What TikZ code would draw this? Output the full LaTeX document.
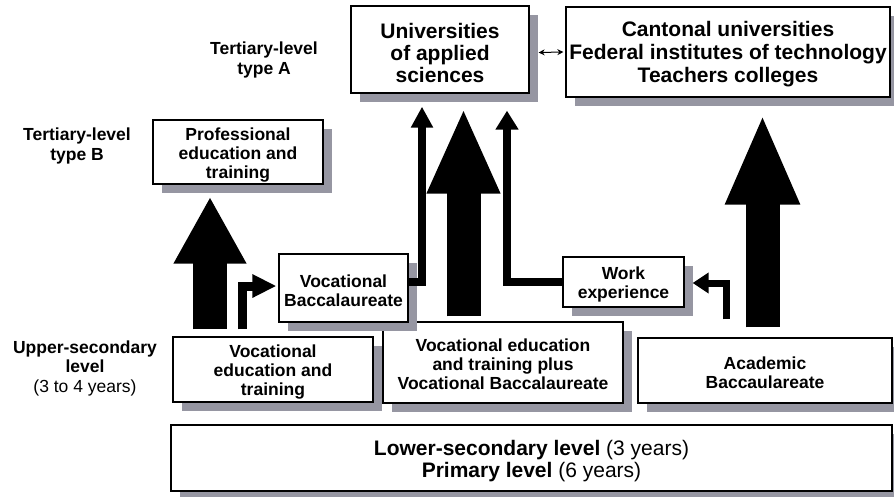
\documentclass[tikz,border=0pt]{standalone}
\usepackage{fontspec}
\setmainfont{Liberation Sans}
\usetikzlibrary{arrows.meta,shadows,calc}
\definecolor{shadowgray}{RGB}{150,150,162}
\begin{document}
\begin{tikzpicture}[x=1pt,y=-1pt,
 box/.style={draw=black, line width=1.3pt, fill=white, inner sep=0pt,
   drop shadow={shadow xshift=9pt, shadow yshift=-9pt, fill=shadowgray, opacity=1}},
 txt/.style={align=center, inner sep=0pt, font=\bfseries\fontsize{17.5}{19}\selectfont},
 bigtxt/.style={txt, font=\bfseries\fontsize{21}{22}\selectfont},
 lab/.style={align=center, font=\bfseries\fontsize{17.5}{19.5}\selectfont, inner sep=0pt},
 bigarrow/.style 2 args={line width=34pt, -{Triangle[width=#1,length=#2]}},
 bentarrow/.style 2 args={line width=8pt, -{Triangle[width=#1,length=#2]}},
 twoway/.style={line width=1pt, {Stealth[length=6pt,width=6pt]}-{Stealth[length=6pt,width=6pt]}}
]
\useasboundingbox (0,0) rectangle (894,496);
\fill[white] (0,0) rectangle (894,496);

% coordinates for arrow axes
\path (210,0) coordinate (xL) (463.5,0) coordinate (xC) (762.5,0) coordinate (xR)
      (422,0) coordinate (x1) (507,0) coordinate (x2) (726,0) coordinate (x3) (242.5,0) coordinate (x4);

% labels
\node[lab] (tA) at (264,60) {Tertiary-level\\type A};
\node[lab] (tB) at (77,146) {Tertiary-level\\type B};
\node[lab] (us) at (85,368) {Upper-secondary\\level\\{\mdseries(3 to 4 years)}};

% boxes
\node[box, minimum width=178pt, minimum height=87pt] (U) at (440,49.5) {};
\node[bigtxt] (Ut) at ([yshift=-3pt]U.center) {Universities\\of applied\\sciences};
\node[box, minimum width=324pt, minimum height=90pt] (C) at (728,52) {};
\node[bigtxt, font=\bfseries\fontsize{21}{23}\selectfont] (Ct) at ([yshift=-2pt]C.center) {Cantonal universities\\Federal institutes of technology\\Teachers colleges};
\node[box, minimum width=170pt, minimum height=64pt] (P) at (238,152) {};
\node[txt] (Pt) at ([yshift=-3pt]P.center) {Professional\\education and\\training};
\node[box, minimum width=240pt, minimum height=81pt] (VP) at (503,362.5) {};
\node[txt] (VPt) at ([yshift=-2pt]VP.center) {Vocational education\\and training plus\\Vocational Baccalaureate};
\node[box, minimum width=129pt, minimum height=68pt] (VB) at (343.5,288) {};
\node[txt] (VBt) at ([yshift=-3pt]VB.center) {Vocational\\Baccalaureate};
\node[box, minimum width=200pt, minimum height=65pt] (VET) at (273,369.5) {};
\node[txt] (VETt) at ([yshift=-3pt]VET.center) {Vocational\\education and\\training};
\node[box, minimum width=254pt, minimum height=65pt] (AB) at (765,370.5) {};
\node[txt] (ABt) at ([yshift=-2pt]AB.center) {Academic\\Baccaulareate};
\node[box, minimum width=121pt, minimum height=50pt] (WE) at (623.5,282) {};
\node[txt] (WEt) at ([yshift=-2pt]WE.center) {Work\\experience};
\node[box, minimum width=721pt, minimum height=66pt] (L) at (531.5,458) {};
\node[bigtxt] (Lt) at ([yshift=-3pt]L.center) {Lower-secondary level {\mdseries(3 years)}\\Primary level {\mdseries(6 years)}};

% big arrows
\draw[bigarrow={68pt}{67pt}] ($(VET.north -| xL)+(0,-7)$) -- ($(P.south -| xL)+(0,12)$);
\draw[bigarrow={67pt}{86pt}] ($(VP.north -| xC)+(0,-5)$) -- ($(U.south -| xC)+(0,14)$);
\draw[bigarrow={68pt}{91pt}] ($(AB.north -| xR)+(0,-10)$) -- ($(C.south -| xR)+(0,16)$);

% bent arrows
\draw[bentarrow={21pt}{21pt}] ($(VB.east)+(0,-6)$) -| ($(U.south -| x1)+(0,13)$);
\draw[bentarrow={22pt}{19pt}] (WE.west) -| ($(U.south -| x2)+(0,17)$);
\draw[bentarrow={20pt}{16pt}, line width=7pt] ($(AB.north -| x3)+(0,-18)$) |- ($(WE.east)+(8,1)$);
\draw[bentarrow={22pt}{24pt}, line width=9pt] ($(VET.north -| x4)+(0,-7)$) |- ($(VB.west)+(-2,-2)$);

% two-way arrow
\draw[twoway] ($(U.east)+(9,3)$) -- ($(C.west)+(-2,0)$);
\end{tikzpicture}
\end{document}
